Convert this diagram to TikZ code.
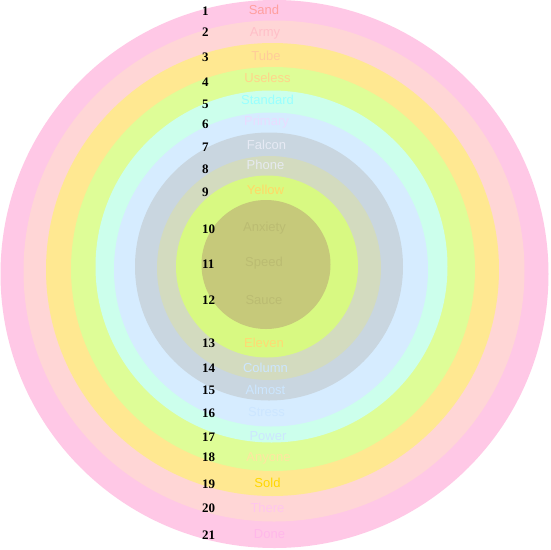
\documentclass[tikz,border=0pt]{standalone}
\usepackage{fontspec}
\setmainfont{Liberation Sans}
\newfontfamily\numfont{Liberation Serif}
\definecolor{cA}{HTML}{FFC8E6}
\definecolor{cB}{HTML}{FFD6D6}
\definecolor{cC}{HTML}{FFE891}
\definecolor{cD}{HTML}{DEFD97}
\definecolor{cE}{HTML}{CCFFEC}
\definecolor{cF}{HTML}{D6ECFF}
\definecolor{cG}{HTML}{C9D6E0}
\definecolor{cH}{HTML}{D3DBBF}
\definecolor{cI}{HTML}{D8F982}
\definecolor{cJ}{HTML}{C6C97A}
\definecolor{tSand}{HTML}{FF9F9F}
\definecolor{tArmy}{HTML}{FFBFC8}
\definecolor{tTube}{HTML}{FFCC99}
\definecolor{tUseless}{HTML}{FFD48A}
\definecolor{tStandard}{HTML}{99FFFF}
\definecolor{tPrimary}{HTML}{EADCFF}
\definecolor{tFalcon}{HTML}{E6EAF4}
\definecolor{tPhone}{HTML}{E6EAF0}
\definecolor{tYellow}{HTML}{FFD966}
\definecolor{tOlive}{HTML}{BBBC72}
\definecolor{tEleven}{HTML}{FFDA73}
\definecolor{tBlue}{HTML}{CCE6FF}
\definecolor{tAnyone}{HTML}{FFE6A0}
\definecolor{tSold}{HTML}{FFD700}
\definecolor{tThere}{HTML}{FFC6EE}
\definecolor{tDone}{HTML}{FFB8EA}
\tikzset{
  numlabel/.style={anchor=west, inner sep=0pt, text height=8.6pt, text depth=0pt,
    font=\numfont\bfseries\fontsize{13}{13}\selectfont, text=black},
  ringlabel/.style={anchor=center, inner sep=0pt, text height=9.3pt, text depth=0pt,
    font=\fontsize{13}{13}\selectfont}
}
\begin{document}
\begin{tikzpicture}[x=1pt,y=-1pt]
\useasboundingbox (0,0) rectangle (550,550);
\fill[white] (0,0) rectangle (550,550);
% rings
\fill[cA] (274.5,274) circle[radius=274pt];
\fill[cB] (274,271) circle[radius=250.5pt];
\fill[cC] (272.5,269.5) circle[radius=226.5pt];
\fill[cD] (273,269) circle[radius=202pt];
\fill[cE] (271.5,266.5) circle[radius=176pt];
\fill[cF] (271,269.5) circle[radius=157pt];
\fill[cG] (269,266.5) circle[radius=134pt];
\fill[cH] (269,268) circle[radius=112pt];
\fill[cI] (267,266.5) circle[radius=91pt];
\fill[cJ] (266,264.5) circle[radius=64.5pt];
% numbers
\node[numlabel] (n1) at (202,11) {1};
\node[numlabel] (n2) at (202,32) {2};
\node[numlabel] (n3) at (202,57) {3};
\node[numlabel] (n4) at (202,82) {4};
\node[numlabel] (n5) at (202,104) {5};
\node[numlabel] (n6) at (202,124) {6};
\node[numlabel] (n7) at (202,147) {7};
\node[numlabel] (n8) at (202,169) {8};
\node[numlabel] (n9) at (202,192) {9};
\node[numlabel] (n10) at (202,229) {10};
\node[numlabel] (n11) at (202,264) {11};
\node[numlabel] (n12) at (202,300) {12};
\node[numlabel] (n13) at (202,343) {13};
\node[numlabel] (n14) at (202,368) {14};
\node[numlabel] (n15) at (202,390) {15};
\node[numlabel] (n16) at (202,413) {16};
\node[numlabel] (n17) at (202,437) {17};
\node[numlabel] (n18) at (202,457) {18};
\node[numlabel] (n19) at (202,484) {19};
\node[numlabel] (n20) at (202,508) {20};
\node[numlabel] (n21) at (202,535) {21};
% ring labels
\node[ringlabel, text=tSand] (l1) at (264,10) {Sand};
\node[ringlabel, text=tArmy] (l2) at (265,32) {Army};
\node[ringlabel, text=tTube] (l3) at (266,56) {Tube};
\node[ringlabel, text=tUseless] (l4) at (267.5,77.5) {Useless};
\node[ringlabel, text=tStandard] (l5) at (267.5,100) {Standard};
\node[ringlabel, text=tPrimary] (l6) at (266.5,121) {Primary};
\node[ringlabel, text=tFalcon] (l7) at (266.5,145) {Falcon};
\node[ringlabel, text=tPhone] (l8) at (265.5,165) {Phone};
\node[ringlabel, text=tYellow] (l9) at (265.5,190) {Yellow};
\node[ringlabel, text=tOlive] (l10) at (264.5,226.5) {Anxiety};
\node[ringlabel, text=tOlive] (l11) at (264,261.5) {Speed};
\node[ringlabel, text=tOlive] (l12) at (264,299.5) {Sauce};
\node[ringlabel, text=tEleven] (l13) at (264,342.5) {Eleven};
\node[ringlabel, text=tBlue] (l14) at (265.5,368) {Column};
\node[ringlabel, text=tBlue] (l15) at (265.5,389.5) {Almost};
\node[ringlabel, text=tBlue] (l16) at (266.5,412) {Stress};
\node[ringlabel, text=tBlue] (l17) at (268,436) {Power};
\node[ringlabel, text=tAnyone] (l18) at (268.5,456.5) {Anyone};
\node[ringlabel, text=tSold] (l19) at (267.5,483) {Sold};
\node[ringlabel, text=tThere] (l20) at (267.5,507.5) {There};
\node[ringlabel, text=tDone] (l21) at (269.5,534) {Done};
\end{tikzpicture}
\end{document}
